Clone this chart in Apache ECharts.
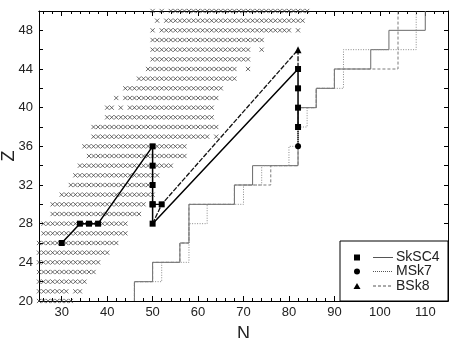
<!DOCTYPE html>
<html>
<head>
<meta charset="utf-8">
<script src="https://cdn.jsdelivr.net/npm/echarts@6/dist/echarts.min.js"></script>
<style>
  html, body { margin: 0; padding: 0; background: #fff; }
  #chart { width: 458px; height: 338px; }
</style>
</head>
<body>
<div id="chart"></div>
<script>
// known nuclei (crosses): one row per Z, each row is a list of [N from, N to] runs
const rowZ = [20, 21, 22, 23, 24, 25, 26, 27, 28, 29, 30, 31, 32, 33, 34, 35,
  36, 37, 38, 39, 40, 41, 42, 43, 44, 45, 46, 47, 48, 49, 50]
const rowRuns = [
  [[25, 32]],
  [[25, 31], [33, 34]],
  [[25, 35]],
  [[25, 37]],
  [[25, 38]],
  [[25, 40]],
  [[25, 42]],
  [[26, 44]],
  [[26, 44]],
  [[28, 47]],
  [[28, 48]],
  [[30, 50]],
  [[32, 50]],
  [[33, 51]],
  [[34, 54]],
  [[36, 57]],
  [[35, 57]],
  [[37, 62], [64, 64]],
  [[37, 64]],
  [[40, 63]],
  [[40, 41], [43, 43], [45, 63]],
  [[42, 42], [44, 64]],
  [[44, 65]],
  [[47, 68]],
  [[49, 68], [71, 71]],
  [[50, 71]],
  [[50, 71], [74, 74]],
  [[50, 74]],
  [[50, 50], [52, 80], [82, 82]],
  [[51, 51], [53, 83]],
  [[50, 50], [52, 52], [54, 84]]
]

// calculated paths (N, Z)
const sksc4Path = [[30, 26], [34, 28], [36, 28], [38, 28], [50, 36], [50, 34], [50, 32],
  [50, 30], [50, 28], [82, 44], [82, 42], [82, 40], [82, 38]]
const sksc4Branch = [[50, 30], [52, 30]]
const msk7Path = [[82, 38], [82, 36]]
const bsk8Path = [[50, 28], [52, 30], [82, 46], [82, 44]]

// drip lines (staircases)
const dripSkSC4 = [[46, 20], [46, 22], [50, 22], [50, 24], [56, 24], [56, 26], [58, 26], [58, 30],
  [68, 30], [68, 32], [72, 32], [72, 34], [82, 34], [82, 40], [86, 40], [86, 42], [90, 42],
  [90, 44], [98, 44], [98, 46], [102, 46], [102, 48], [110, 48], [110, 50]]
const dripMSk7 = [[46, 20], [46, 22], [52, 22], [52, 24], [58, 24], [58, 28], [62, 28], [62, 30],
  [70, 30], [70, 32], [74, 32], [74, 34], [80, 34], [80, 36], [82, 36], [82, 38], [84, 38],
  [84, 40], [86, 40], [86, 42], [92, 42], [92, 46], [108, 46], [108, 50]]
const dripBSk8 = [[46, 20], [46, 22], [50, 22], [50, 24], [56, 24], [56, 26], [58, 26], [58, 30],
  [68, 30], [68, 32], [76, 32], [76, 34], [82, 34], [82, 40], [86, 40], [86, 42], [90, 42],
  [90, 44], [104, 44], [104, 50]]

const xMajor = [30, 40, 50, 60, 70, 80, 90, 100, 110]
const xMinor = []
for (let n = 26; n <= 114; n += 2) xMinor.push(n)

function crossData () {
  let pts = []
  rowZ.forEach((z, i) => {
    rowRuns[i].forEach(run => {
      for (let n = run[0]; n <= run[1]; n++) pts.push([n, z])
    })
  })
  return pts
}

const FONT = 'Liberation Sans, Arial, sans-serif'
const axisLine = { show: true, lineStyle: { color: '#000', width: 1 } }

function xAx (pos, ticks, len, labels) {
  return {
    type: 'value', position: pos, min: 25, max: 115,
    axisLine: axisLine,
    splitLine: { show: false },
    axisTick: { show: true, inside: true, length: len, customValues: ticks, lineStyle: { color: '#000' } },
    axisLabel: labels
      ? { show: true, customValues: xMajor, fontSize: 13, color: '#222', fontFamily: FONT, margin: 5 }
      : { show: false }
  }
}

function yAx (pos, labels) {
  return {
    type: 'value', position: pos, min: 20, max: 50, interval: 2,
    axisLine: axisLine,
    splitLine: { show: false },
    axisTick: { show: true, inside: true, length: 4, lineStyle: { color: '#000' } },
    axisLabel: labels
      ? { show: true, fontSize: 13, color: '#222', fontFamily: FONT, margin: 6,
          formatter: v => (v % 4 === 0 ? String(v) : '') }
      : { show: false }
  }
}

function onlyAt (path, keep, sym) {
  return path.map(p => ({ value: p, symbol: (p[0] === keep[0] && p[1] === keep[1]) ? sym : 'none' }))
}

let chart = echarts.init(document.getElementById('chart'))
let option = {
  animation: false,
  backgroundColor: '#fff',
  grid: { left: 39, right: 10, top: 11, bottom: 37, containLabel: false, outerBoundsMode: 'none' },
  xAxis: [
    Object.assign(xAx('bottom', xMajor, 5, true), {
      name: 'N', nameLocation: 'middle', nameGap: 24,
      nameTextStyle: { fontSize: 18, color: '#222', fontFamily: FONT }
    }),
    xAx('bottom', xMinor, 3, false),
    xAx('top', xMajor, 5, false),
    xAx('top', xMinor, 3, false)
  ],
  yAxis: [yAx('left', true), yAx('right', false)],
  series: [
    {
      type: 'scatter', data: crossData(), z: 1,
      symbol: 'path://M0,0L10,10M10,0L0,10', symbolSize: 4.2,
      itemStyle: { color: 'none', borderColor: '#333', borderWidth: 0.9 }
    },
    { type: 'line', data: dripSkSC4, symbol: 'none', z: 2,
      lineStyle: { color: '#6a6a6a', width: 1, type: 'solid' } },
    { type: 'line', data: dripMSk7, symbol: 'none', z: 2,
      lineStyle: { color: '#8a8a8a', width: 1, type: [1, 1.5] } },
    { type: 'line', data: dripBSk8, symbol: 'none', z: 2,
      lineStyle: { color: '#7a7a7a', width: 1, type: [3, 2] } },
    { type: 'line', data: onlyAt(bsk8Path, [82, 46], 'triangle'), symbolSize: 7, z: 3,
      itemStyle: { color: '#000' }, lineStyle: { color: '#111', width: 1.3, type: [5, 1.5] } },
    { type: 'line', data: onlyAt(msk7Path, [82, 36], 'circle'), symbolSize: 6, z: 3,
      itemStyle: { color: '#000' }, lineStyle: { color: '#111', width: 1.3, type: [1, 1] } },
    { type: 'line', data: sksc4Branch, symbol: 'rect', symbolSize: 6, z: 4,
      itemStyle: { color: '#000' }, lineStyle: { color: '#000', width: 1.3 } },
    { type: 'line', data: sksc4Path, symbol: 'rect', symbolSize: 6, z: 4,
      itemStyle: { color: '#000' }, lineStyle: { color: '#000', width: 1.5 } }
  ],
  graphic: [
    // y axis title
    { type: 'text', x: 9, y: 156, rotation: Math.PI / 2,
      style: { text: 'Z', fontSize: 18, fontFamily: FONT, fill: '#222', align: 'center', verticalAlign: 'middle' } },
    // legend box
    { type: 'rect', shape: { x: 340, y: 241, width: 108, height: 60 },
      style: { fill: '#fff', stroke: '#000', lineWidth: 1 }, z: 100 },
    { type: 'rect', shape: { x: 354, y: 254.5, width: 6, height: 6 }, style: { fill: '#000' }, z: 101 },
    { type: 'line', shape: { x1: 373, y1: 257.5, x2: 393, y2: 257.5 },
      style: { stroke: '#555', lineWidth: 1 }, z: 101 },
    { type: 'text', style: { x: 396, y: 257.5, text: 'SkSC4', fontSize: 14, fontFamily: FONT,
      fill: '#222', verticalAlign: 'middle' }, z: 101 },
    { type: 'circle', shape: { cx: 357, cy: 271.5, r: 3 }, style: { fill: '#000' }, z: 101 },
    { type: 'line', shape: { x1: 373, y1: 271.5, x2: 393, y2: 271.5 },
      style: { stroke: '#555', lineWidth: 1, lineDash: [1, 1] }, z: 101 },
    { type: 'text', style: { x: 396, y: 271.5, text: 'MSk7', fontSize: 14, fontFamily: FONT,
      fill: '#222', verticalAlign: 'middle' }, z: 101 },
    { type: 'polygon', shape: { points: [[357, 283], [353.5, 289], [360.5, 289]] },
      style: { fill: '#000' }, z: 101 },
    { type: 'line', shape: { x1: 373, y1: 286, x2: 393, y2: 286 },
      style: { stroke: '#555', lineWidth: 1, lineDash: [3, 2] }, z: 101 },
    { type: 'text', style: { x: 396, y: 286, text: 'BSk8', fontSize: 14, fontFamily: FONT,
      fill: '#222', verticalAlign: 'middle' }, z: 101 }
  ]
}
chart.setOption(option)
window.addEventListener('resize', () => {
  chart.resize()
})
</script>
</body>
</html>
